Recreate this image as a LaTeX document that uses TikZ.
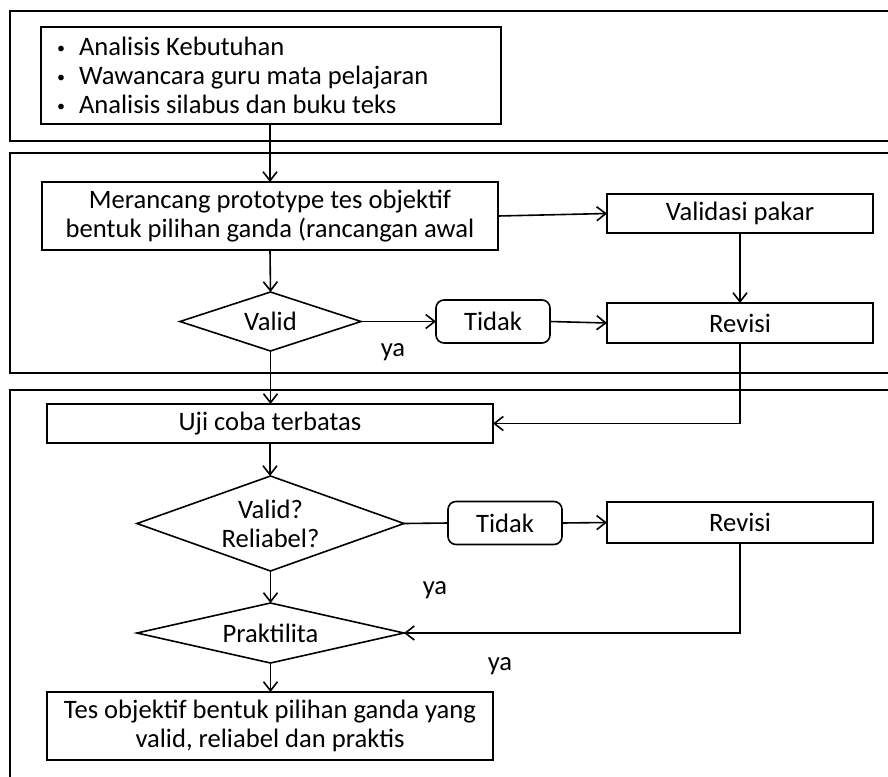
\documentclass[tikz,border=0pt]{standalone}
\usepackage{fontspec}
\setmainfont{Carlito}
\usetikzlibrary{arrows.meta,shapes.geometric}

\newcommand{\dotitem}{\makebox[11pt][l]{\raisebox{0.15ex}{\footnotesize\textbullet}}}

\begin{document}
\begin{tikzpicture}[x=0.5pt, y=-0.5pt, line width=0.8pt,
    every node/.style={font=\fontsize{13.3}{14.6}\selectfont, outer sep=0pt},
    box/.style={draw, rectangle, align=center, inner sep=0pt},
    ask/.style={draw, diamond, shape aspect=3, align=center, inner sep=0pt},
    nope/.style={draw, rectangle, rounded corners=4pt, minimum width=57pt, minimum height=21.5pt},
    arr/.style={-{Straight Barb[length=4.5pt, width=7pt]}}]
    \useasboundingbox (0,0) rectangle (888,776);
    \clip (0,0) rectangle (888,776);

    % Frames
    \draw[line width=1.2pt] (10,11) rectangle (900,141);
    \draw[line width=1.2pt] (10,153) rectangle (900,373);
    \draw[line width=1.2pt] (10,390) rectangle (900,800);

    % Needs analysis
    \node[box, text width=214pt, align=flush left, inner xsep=8pt, minimum height=48.5pt] (needs) at (271,75.5)
        {\dotitem Analisis Kebutuhan\\
         \dotitem Wawancara guru mata pelajaran\\
         \dotitem Analisis silabus dan buku teks};

    % Design and expert validation
    \node[box, minimum width=228pt, minimum height=34pt] (design) at (270,216) {Merancang prototype tes objektif\\bentuk pilihan ganda (rancangan awal};
    \node[box, minimum width=133pt, minimum height=19.5pt] (expert) at (740,213.5) {Validasi pakar};
    \node[ask, minimum width=90.5pt, minimum height=29.5pt] (valid) at (270.5,321.5) {Valid};
    \node[nope] (no1) at (493,321.5) {Tidak};
    \node[box, minimum width=133pt, minimum height=20pt] (rev1) at (740,323) {Revisi};
    \node (yes1) at (393,352) {ya};

    % Limited trial
    \node[box, minimum width=223pt, minimum height=19.5pt] (trial) at (270,423.5) {Uji coba terbatas};
    \node[ask, minimum width=133.5pt, minimum height=47.5pt] (valrel) at (270.5,523.5) {Valid?\\Reliabel?};
    \node[nope] (no2) at (505,523) {Tidak};
    \node[box, minimum width=133pt, minimum height=20.5pt] (rev2) at (740,522.5) {Revisi};
    \node (yes2) at (435,590) {ya};
    \node[ask, minimum width=133.5pt, minimum height=30pt] (prak) at (270.5,633) {Praktilita};
    \node (yes3) at (500,666) {ya};
    \node[box, minimum width=223pt, minimum height=34pt] (final) at (270,726) {Tes objektif bentuk pilihan ganda yang\\valid, reliabel dan praktis};

    % Arrows
    \draw[arr] (needs.south -| design.north) -- (design.north);
    \draw[arr] (design.east) -- (expert.west);
    \draw[arr] (design.south) -- (valid.north);
    \draw[arr] (expert.south) -- (rev1.north);
    \draw[arr] (valid.east) -- (no1.west);
    \draw[arr] (no1.east) -- (rev1.west);
    \draw[arr] (valid.south) -- (trial.north -| valid.south);
    \draw[arr] (rev1.south) |- (trial.east);
    \draw[arr] (trial.south) -- (valrel.north -| trial.south);
    \draw (valrel.east) -- (no2.west);
    \draw[arr] (no2.east) -- (rev2.west);
    \draw[arr] (valrel.south) -- (prak.north);
    \draw[arr] (rev2.south) |- (prak.east);
    \draw[arr] (prak.south) -- (final.north -| prak.south);

\end{tikzpicture}
\end{document}
